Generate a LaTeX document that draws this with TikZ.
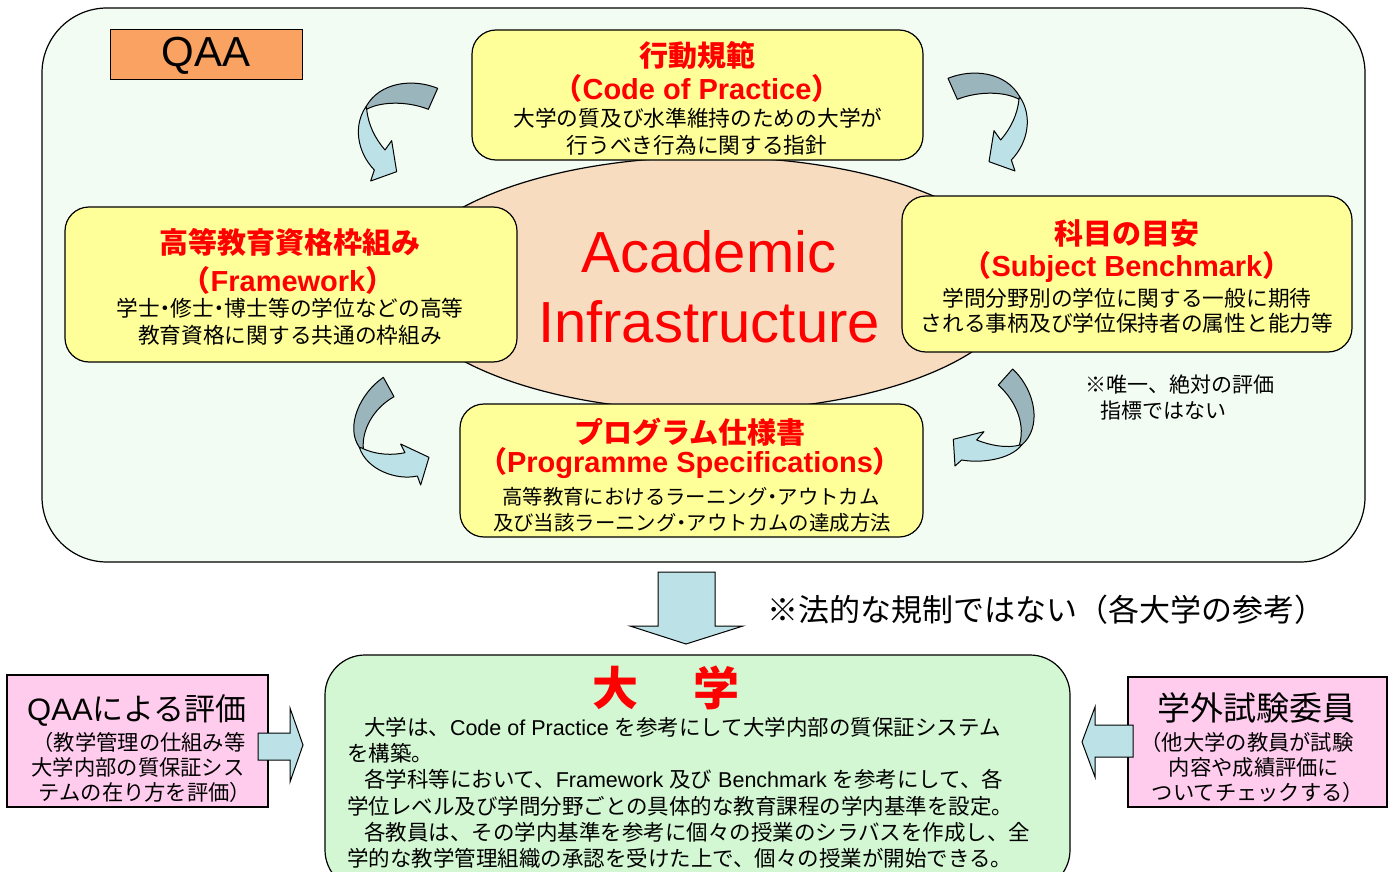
\documentclass[tikz,border=0pt]{standalone}
\usepackage{fontspec}
\setmainfont{Noto Sans CJK JP}
\newfontfamily\lat{Liberation Sans}
\usetikzlibrary{shapes.geometric}
\definecolor{bgmint}{HTML}{F3FCF3}
\definecolor{qaaorange}{HTML}{F9A262}
\definecolor{boxyellow}{HTML}{FFFF99}
\definecolor{peach}{HTML}{F8DCC0}
\definecolor{arrlight}{HTML}{BCE2E8}
\definecolor{arrdark}{HTML}{9AB5BB}
\definecolor{unigreen}{HTML}{D2F7D2}
\definecolor{pinkfill}{HTML}{FFCCEE}
\newcommand{\nkg}{\makebox[0.5em]{・}}
\begin{document}
\begin{tikzpicture}[x=1pt,y=-1pt,
  txt/.style={inner sep=0pt, outer sep=0pt},
  ttl/.style={txt, text=red, font=\fontsize{29}{32}\selectfont\bfseries},
  bdy/.style={txt, font=\fontsize{21.7}{24}\selectfont},
  psbdy/.style={txt, font=\fontsize{20.4}{23}\selectfont},
  ubdy/.style={txt, anchor=west, font=\fontsize{21.5}{24}\selectfont},
  pbdy/.style={txt, font=\fontsize{21.3}{24}\selectfont},
  ybox/.style={draw=black, line width=1.2pt, rounded corners=24pt, fill=boxyellow, inner sep=0pt},
  pbox/.style={draw=black, line width=1.2pt, fill=pinkfill, inner sep=0pt},
  carl/.style={draw=black, line width=1pt, fill=arrlight, line join=round},
  card/.style={draw=black, line width=1pt, fill=arrdark, line join=round},
  barrow/.style={draw=black, line width=1pt, fill=arrlight, line join=miter}
]
\useasboundingbox (0,0) rectangle (1392,872);
\fill[white] (0,0) rectangle (1392,872);

% QAA area
\node[draw=black, line width=1.2pt, fill=bgmint, rounded corners=65pt, inner sep=0pt,
      minimum width=1323pt, minimum height=554pt] (area) at (703.5,285) {};
\node[draw=black, line width=1pt, fill=qaaorange, inner sep=0pt,
      minimum width=192pt, minimum height=50pt] (qaa) at (206,55) {};
\node[txt, font=\lat\fontsize{42}{44}\selectfont] (qaat) at (206,56) {QAA};

% ellipse
\node[draw=black, line width=1.2pt, fill=peach, ellipse, inner sep=0pt,
      minimum width=620pt, minimum height=254pt] (ell) at (710,284) {};
\node[txt, text=red, font=\lat\fontsize{58}{70}\selectfont] (ac1) at (709,252) {Academic};
\node[txt, text=red, font=\lat\fontsize{58}{70}\selectfont] (ac2) at (709,322) {Infrastructure};

% yellow boxes
\node[ybox, minimum width=451pt, minimum height=130pt] (cop) at (697.5,95) {};
\node[ttl] (cop1) at (697,55) {行動規範};
\node[ttl] (cop2) at (697,88) {（{\lat Code of Practice}）};
\node[bdy] (cop3) at (698,118) {大学の質及び水準維持のための大学が};
\node[bdy] (cop4) at (697,145) {行うべき行為に関する指針};

\node[ybox, minimum width=452pt, minimum height=155pt] (fw) at (291,284.5) {};
\node[ttl] (fw1) at (290,242) {高等教育資格枠組み};
\node[ttl] (fw2) at (288,280) {（{\lat Framework}）};
\node[bdy] (fw3) at (290,308) {学士\nkg 修士\nkg 博士等の学位などの高等};
\node[bdy] (fw4) at (290,335) {教育資格に関する共通の枠組み};

\node[ybox, minimum width=450pt, minimum height=156pt] (sb) at (1127,274) {};
\node[ttl] (sb1) at (1127,233) {科目の目安};
\node[ttl] (sb2) at (1127,267) {（{\lat Subject Benchmark}）};
\node[bdy] (sb3) at (1127,298) {学問分野別の学位に関する一般に期待};
\node[bdy] (sb4) at (1127,323) {される事柄及び学位保持者の属性と能力等};

\node[ybox, minimum width=463pt, minimum height=133pt] (ps) at (691.5,470.5) {};
\node[ttl] (ps1) at (690,432) {プログラム仕様書};
\node[ttl] (ps2) at (690,463) {（{\lat Programme Specifications}）};
\node[psbdy] (ps3) at (691,497) {高等教育におけるラーニング\nkg アウトカム};
\node[psbdy] (ps4) at (692,523) {及び当該ラーニング\nkg アウトカムの達成方法};

\node[txt, anchor=west, font=\fontsize{21}{24}\selectfont] (note1) at (1085,385) {※唯一、絶対の評価};
\node[txt, anchor=west, font=\fontsize{21}{24}\selectfont] (note2) at (1100,411) {指標ではない};

% curved arrows
\begin{scope}[shift={(340,70)}, scale=0.33333]
  \draw[card] (293,55) .. controls (220,25) and (120,35) .. (78,110) -- (80,118) .. controls (120,95) and (200,92) .. (265,118) -- cycle;
  \draw[carl] (78,110) .. controls (40,165) and (50,245) .. (103,300) -- (92,333) -- (170,305) -- (155,212) -- (135,240) .. controls (105,205) and (85,165) .. (80,118) -- cycle;
\end{scope}
\begin{scope}[shift={(1045.67,60)}, xscale=-0.33333, yscale=0.33333]
  \draw[card] (293,55) .. controls (220,25) and (120,35) .. (78,110) -- (80,118) .. controls (120,95) and (200,92) .. (265,118) -- cycle;
  \draw[carl] (78,110) .. controls (40,165) and (50,245) .. (103,300) -- (92,333) -- (170,305) -- (155,212) -- (135,240) .. controls (105,205) and (85,165) .. (80,118) -- cycle;
\end{scope}
\begin{scope}[shift={(330,370)}, scale=0.33333]
  \draw[card] (160,22) .. controls (90,70) and (45,170) .. (88,232) -- (100,236) .. controls (95,180) and (130,115) .. (192,80) -- cycle;
  \draw[carl] (95,234) .. controls (140,256) and (190,256) .. (225,248) -- (212,222) -- (297,262) -- (272,345) -- (262,318) .. controls (200,332) and (110,300) .. (88,232) -- cycle;
\end{scope}
\begin{scope}[shift={(940,360)}, scale=0.33333]
  \draw[card] (218,27) .. controls (290,95) and (305,205) .. (245,255) -- (238,255) .. controls (255,200) and (235,130) .. (175,75) -- cycle;
  \draw[carl] (240,255) .. controls (200,266) and (150,256) .. (110,240) -- (132,215) -- (40,238) -- (45,318) -- (65,300) .. controls (120,310) and (210,300) .. (245,255) -- cycle;
\end{scope}

% down arrow and note
\draw[barrow] (658,572) -- (715,572) -- (715,626) -- (743,626) -- (686,644) -- (630,626) -- (658,626) -- cycle;
\node[txt, font=\fontsize{31}{34}\selectfont] (law) at (1046,610) {※法的な規制ではない（各大学の参考）};

% university box
\begin{scope}
  \clip (0,0) rectangle (1392,872);
  \node[draw=black, line width=1.2pt, fill=unigreen, rounded corners=40pt, inner sep=0pt,
        minimum width=745pt, minimum height=235pt] (uni) at (697.5,772.5) {};
\end{scope}
\node[txt, text=red, font=\fontsize{46}{50}\selectfont\bfseries] (unit) at (666,688) {大\hspace{55pt}学};
\node[ubdy] (u1) at (364,727) {大学は、{\lat Code of Practice }を参考にして大学内部の質保証システム};
\node[ubdy] (u2) at (347,753) {を構築。};
\node[ubdy] (u3) at (364,779) {各学科等において、{\lat Framework }及び{\lat\ Benchmark }を参考にして、各};
\node[ubdy] (u4) at (347,806) {学位レベル及び学問分野ごとの具体的な教育課程の学内基準を設定。};
\node[ubdy] (u5) at (364,832) {各教員は、その学内基準を参考に個々の授業のシラバスを作成し、全};
\node[ubdy] (u6) at (347,858) {学的な教学管理組織の承認を受けた上で、個々の授業が開始できる。};

% pink boxes
\node[pbox, minimum width=261pt, minimum height=132pt] (qaaeval) at (137.5,741) {};
\node[txt, font=\fontsize{31}{34}\selectfont] (qe1) at (137,710) {{\lat QAA}による評価};
\node[pbdy] (qe2) at (139,742) {（教学管理の仕組み等};
\node[pbdy] (qe3) at (138,767) {大学内部の質保証シス};
\node[pbdy] (qe4) at (145,792) {テムの在り方を評価）};

\node[pbox, minimum width=259pt, minimum height=130pt] (extexam) at (1257.5,742) {};
\node[txt, font=\fontsize{33}{36}\selectfont] (ee1) at (1256,708) {学外試験委員};
\node[pbdy] (ee2) at (1247,742) {（他大学の教員が試験};
\node[pbdy] (ee3) at (1254,767) {内容や成績評価に};
\node[pbdy] (ee4) at (1258,792) {ついてチェックする）};

% side arrows
\draw[barrow] (258,733) -- (290,733) -- (290,708) -- (303,745) -- (290,782) -- (290,760) -- (258,760) -- cycle;
\draw[barrow] (1133,725) -- (1095,725) -- (1095,707) -- (1082,742) -- (1095,777) -- (1095,757) -- (1133,757) -- cycle;
\end{tikzpicture}
\end{document}
